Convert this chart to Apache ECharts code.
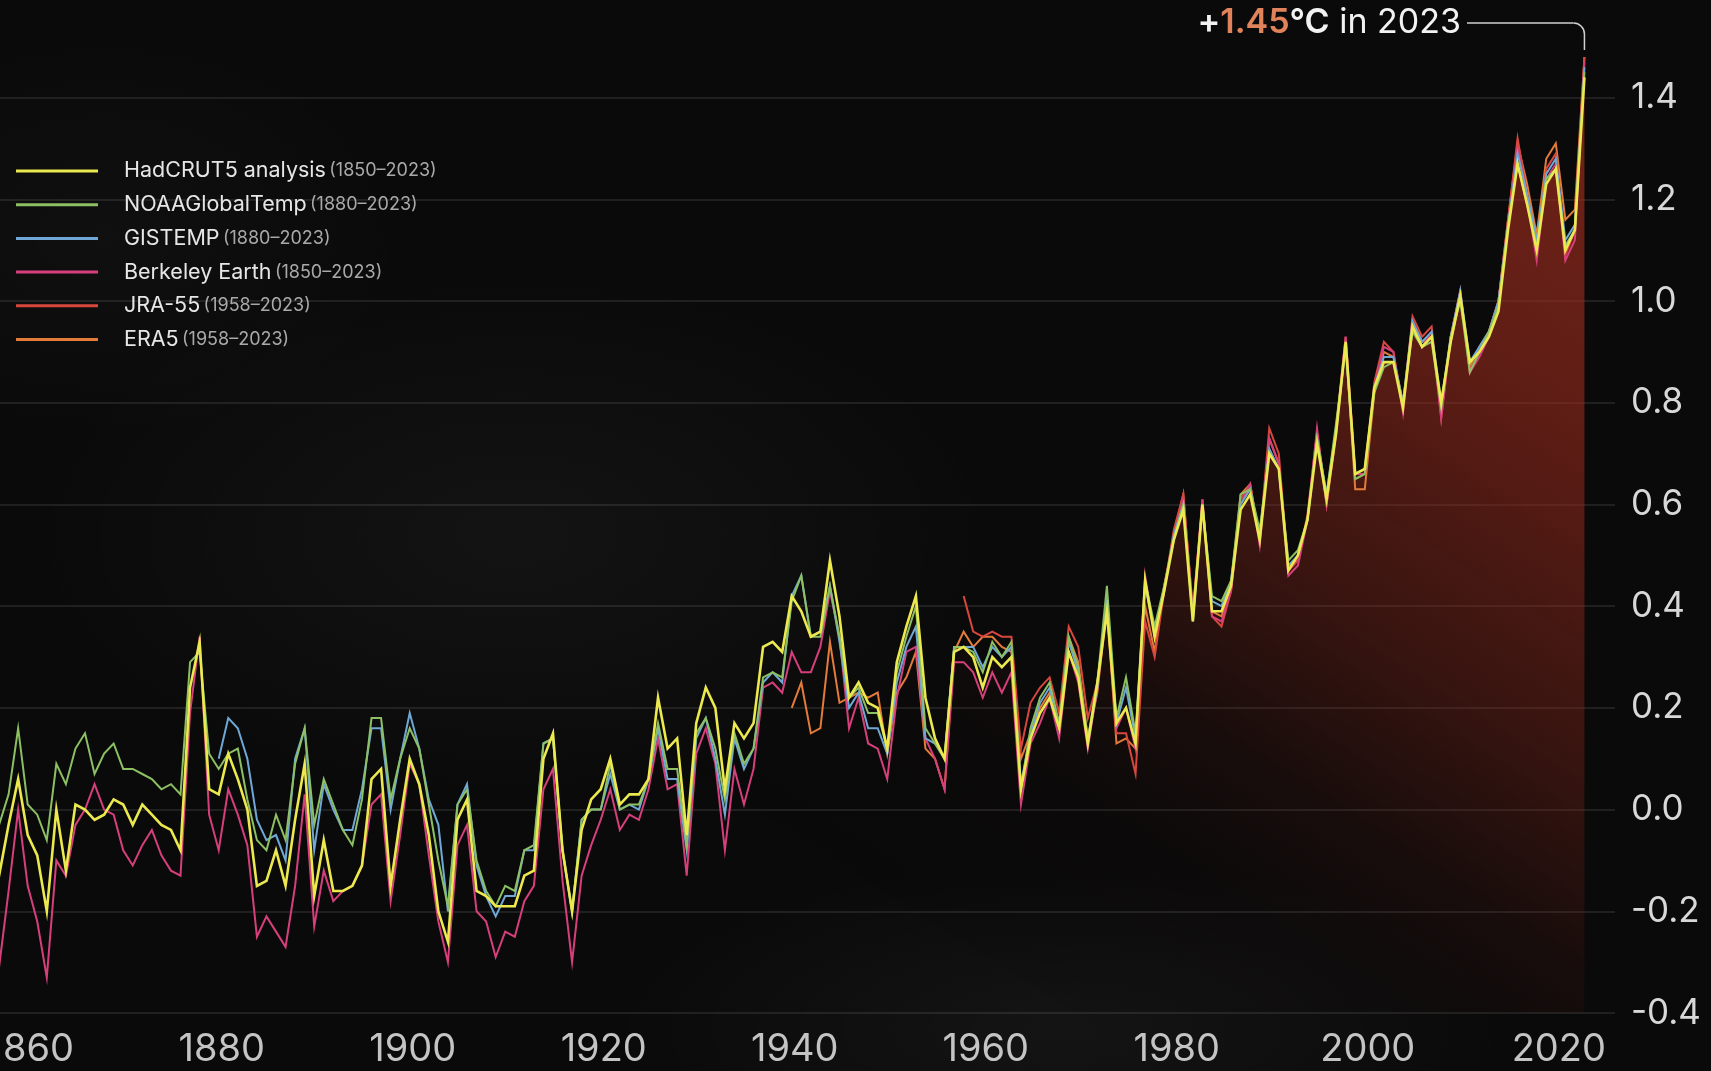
<!DOCTYPE html>
<html>
<head>
<meta charset="utf-8">
<script src="https://cdn.jsdelivr.net/npm/echarts@6/dist/echarts.min.js"></script>
<style>
html,body{margin:0;padding:0;width:1711px;height:1071px;overflow:hidden;
  background:
    radial-gradient(ellipse 700px 380px at 30% 50%, rgba(255,255,255,0.04), transparent 70%),
    radial-gradient(ellipse 650px 240px at 62% 96%, rgba(255,255,255,0.045), transparent 70%),
    radial-gradient(ellipse 450px 300px at 6% 22%, rgba(255,255,255,0.025), transparent 70%),
    #0a0a0a;}
#chart{width:1711px;height:1071px;}
</style>
</head>
<body>
<div id="chart"></div>
<script>
// ---- data (anomaly vs 1850-1900, °C), one value per year ----
const hadStart = 1856;
const hadcrut5 = [
  -0.09, -0.13, -0.03, 0.06,
  -0.05, -0.09, -0.20, 0.00, -0.12, 0.01, 0.00, -0.02, -0.01, 0.02,
  0.01, -0.03, 0.01, -0.01, -0.03, -0.04, -0.08, 0.24, 0.33, 0.04,
  0.03, 0.11, 0.06, 0.00, -0.15, -0.14, -0.08, -0.15, -0.02, 0.09,
  -0.17, -0.06, -0.16, -0.16, -0.15, -0.11, 0.06, 0.08, -0.15, -0.02,
  0.10, 0.05, -0.05, -0.20, -0.26, -0.02, 0.02, -0.16, -0.17, -0.19,
  -0.19, -0.19, -0.13, -0.12, 0.10, 0.15, -0.08, -0.20, -0.04, 0.02,
  0.04, 0.10, 0.01, 0.03, 0.03, 0.06, 0.22, 0.12, 0.14, -0.05,
  0.17, 0.24, 0.20, 0.04, 0.17, 0.14, 0.17, 0.32, 0.33, 0.31,
  0.42, 0.39, 0.34, 0.35, 0.49, 0.38, 0.22, 0.25, 0.21, 0.20,
  0.12, 0.29, 0.36, 0.42, 0.22, 0.14, 0.10, 0.31, 0.32, 0.30,
  0.24, 0.30, 0.28, 0.30, 0.04, 0.14, 0.19, 0.22, 0.16, 0.31,
  0.26, 0.13, 0.25, 0.39, 0.17, 0.20, 0.13, 0.45, 0.34, 0.43,
  0.53, 0.59, 0.37, 0.60, 0.39, 0.39, 0.44, 0.59, 0.62, 0.53,
  0.70, 0.67, 0.47, 0.50, 0.57, 0.72, 0.61, 0.74, 0.92, 0.66,
  0.67, 0.83, 0.88, 0.88, 0.79, 0.95, 0.91, 0.93, 0.80, 0.92,
  1.01, 0.88, 0.90, 0.93, 0.98, 1.14, 1.27, 1.19, 1.10, 1.23,
  1.26, 1.10, 1.14, 1.44
];
const noaaStart = 1856;
const noaa = [
  -0.03, -0.03, 0.03, 0.16,
  0.01, -0.01, -0.06, 0.09, 0.05, 0.12, 0.15, 0.07, 0.11, 0.13,
  0.08, 0.08, 0.07, 0.06, 0.04, 0.05, 0.03, 0.29, 0.31, 0.11,
  0.08, 0.11, 0.12, 0.02, -0.06, -0.08, -0.01, -0.06, 0.09, 0.16,
  -0.03, 0.06, 0.01, -0.04, -0.07, 0.02, 0.18, 0.18, 0.02, 0.10,
  0.16, 0.12, 0.01, -0.10, -0.19, 0.01, 0.04, -0.10, -0.16, -0.19,
  -0.15, -0.16, -0.08, -0.07, 0.13, 0.14, -0.08, -0.20, -0.02, 0.00,
  0.00, 0.09, 0.00, 0.01, 0.01, 0.06, 0.17, 0.08, 0.08, -0.07,
  0.15, 0.18, 0.12, 0.02, 0.15, 0.09, 0.12, 0.26, 0.27, 0.26,
  0.41, 0.46, 0.34, 0.34, 0.44, 0.34, 0.22, 0.24, 0.19, 0.19,
  0.12, 0.27, 0.34, 0.40, 0.16, 0.13, 0.10, 0.32, 0.32, 0.31,
  0.27, 0.33, 0.30, 0.33, 0.04, 0.16, 0.22, 0.25, 0.17, 0.34,
  0.28, 0.14, 0.25, 0.44, 0.18, 0.26, 0.15, 0.45, 0.36, 0.44,
  0.53, 0.60, 0.38, 0.60, 0.42, 0.41, 0.45, 0.62, 0.63, 0.55,
  0.70, 0.67, 0.49, 0.51, 0.57, 0.73, 0.62, 0.76, 0.91, 0.65,
  0.66, 0.82, 0.87, 0.88, 0.80, 0.94, 0.91, 0.92, 0.79, 0.93,
  1.00, 0.86, 0.90, 0.94, 0.99, 1.15, 1.27, 1.19, 1.11, 1.24,
  1.26, 1.11, 1.14, 1.45
];
const gisStart = 1880;
const gistemp = [
  0.10, 0.18, 0.16, 0.10, -0.02, -0.06, -0.05, -0.10, 0.10, 0.16,
  -0.08, 0.05, 0.00, -0.04, -0.04, 0.04, 0.16, 0.16, 0.00, 0.10,
  0.19, 0.12, 0.02, -0.03, -0.20, 0.01, 0.05, -0.11, -0.17, -0.21,
  -0.17, -0.17, -0.08, -0.08, 0.13, 0.14, -0.08, -0.20, -0.02, 0.00,
  0.00, 0.07, 0.00, 0.01, 0.00, 0.06, 0.16, 0.06, 0.06, -0.08,
  0.14, 0.18, 0.10, -0.01, 0.14, 0.08, 0.12, 0.25, 0.27, 0.25,
  0.42, 0.46, 0.34, 0.35, 0.44, 0.33, 0.20, 0.23, 0.16, 0.16,
  0.11, 0.25, 0.32, 0.36, 0.14, 0.13, 0.10, 0.32, 0.32, 0.32,
  0.28, 0.32, 0.30, 0.32, 0.05, 0.15, 0.21, 0.24, 0.16, 0.33,
  0.27, 0.13, 0.24, 0.42, 0.17, 0.24, 0.14, 0.44, 0.35, 0.43,
  0.54, 0.60, 0.37, 0.60, 0.41, 0.40, 0.45, 0.60, 0.63, 0.54,
  0.71, 0.67, 0.48, 0.50, 0.57, 0.73, 0.62, 0.75, 0.91, 0.66,
  0.67, 0.83, 0.89, 0.89, 0.80, 0.96, 0.92, 0.94, 0.80, 0.93,
  1.02, 0.88, 0.91, 0.94, 1.00, 1.15, 1.29, 1.21, 1.12, 1.25,
  1.28, 1.12, 1.15, 1.46
];
const berkStart = 1856;
const berkeley = [
  -0.22, -0.31, -0.16, 0.00,
  -0.15, -0.22, -0.33, -0.10, -0.13, -0.03, 0.00, 0.05, 0.00, -0.01,
  -0.08, -0.11, -0.07, -0.04, -0.09, -0.12, -0.13, 0.19, 0.34, -0.01,
  -0.08, 0.04, -0.01, -0.07, -0.25, -0.21, -0.24, -0.27, -0.15, 0.03,
  -0.23, -0.12, -0.18, -0.16, -0.15, -0.11, 0.01, 0.03, -0.18, -0.05,
  0.09, 0.05, -0.09, -0.22, -0.30, -0.07, -0.03, -0.20, -0.22, -0.29,
  -0.24, -0.25, -0.18, -0.15, 0.04, 0.08, -0.14, -0.30, -0.13, -0.07,
  -0.02, 0.04, -0.04, -0.01, -0.02, 0.04, 0.14, 0.04, 0.05, -0.13,
  0.11, 0.16, 0.09, -0.08, 0.08, 0.01, 0.08, 0.24, 0.25, 0.23,
  0.31, 0.27, 0.27, 0.32, 0.43, 0.34, 0.16, 0.22, 0.13, 0.12,
  0.06, 0.22, 0.31, 0.32, 0.14, 0.10, 0.04, 0.29, 0.29, 0.27,
  0.22, 0.27, 0.23, 0.27, 0.01, 0.13, 0.17, 0.22, 0.14, 0.31,
  0.25, 0.12, 0.24, 0.40, 0.16, 0.20, 0.12, 0.46, 0.34, 0.44,
  0.53, 0.61, 0.38, 0.61, 0.38, 0.37, 0.43, 0.60, 0.64, 0.52,
  0.73, 0.68, 0.46, 0.48, 0.57, 0.75, 0.60, 0.75, 0.93, 0.66,
  0.66, 0.83, 0.91, 0.90, 0.78, 0.96, 0.91, 0.94, 0.77, 0.93,
  1.02, 0.86, 0.89, 0.93, 1.00, 1.15, 1.30, 1.20, 1.08, 1.24,
  1.27, 1.08, 1.12, 1.47
];
const jraStart = 1958;
const jra55 = [
  0.42, 0.35,
  0.34, 0.35, 0.34, 0.34, 0.12, 0.21, 0.24, 0.26, 0.19, 0.36,
  0.32, 0.18, 0.25, 0.40, 0.15, 0.15, 0.07, 0.37, 0.30, 0.43,
  0.55, 0.62, 0.39, 0.61, 0.38, 0.36, 0.43, 0.61, 0.64, 0.53,
  0.75, 0.70, 0.47, 0.49, 0.58, 0.74, 0.61, 0.75, 0.93, 0.66,
  0.66, 0.84, 0.92, 0.90, 0.79, 0.97, 0.93, 0.95, 0.77, 0.93,
  1.02, 0.86, 0.90, 0.94, 1.00, 1.16, 1.32, 1.21, 1.09, 1.26,
  1.29, 1.09, 1.14, 1.48
];
const eraStart = 1940;
const era5 = [
  0.20, 0.25, 0.15, 0.16, 0.33, 0.21, 0.22, 0.23, 0.22, 0.23,
  0.11, 0.23, 0.26, 0.31, 0.12, 0.10, 0.04, 0.31, 0.35, 0.32,
  0.34, 0.34, 0.32, 0.31, 0.10, 0.15, 0.20, 0.23, 0.17, 0.34,
  0.29, 0.14, 0.23, 0.40, 0.13, 0.14, 0.12, 0.40, 0.31, 0.44,
  0.54, 0.62, 0.39, 0.60, 0.39, 0.38, 0.44, 0.62, 0.64, 0.53,
  0.73, 0.68, 0.48, 0.49, 0.57, 0.74, 0.60, 0.74, 0.92, 0.63,
  0.63, 0.82, 0.90, 0.89, 0.80, 0.96, 0.92, 0.93, 0.79, 0.92,
  1.01, 0.87, 0.91, 0.94, 1.00, 1.16, 1.31, 1.23, 1.13, 1.28,
  1.31, 1.16, 1.18, 1.48
];

const xTicks = [1860, 1880, 1900, 1920, 1940, 1960, 1980, 2000, 2020];
const legendNames = ['HadCRUT5 analysis', 'NOAAGlobalTemp', 'GISTEMP', 'Berkeley Earth', 'JRA-55', 'ERA5'];
const legendRanges = ['(1850–2023)', '(1880–2023)', '(1880–2023)', '(1850–2023)', '(1958–2023)', '(1958–2023)'];
const annotValue = 1.45;
const annotYear = 2023;

const FONT = 'Inter, "Noto Sans", sans-serif';

function toPairs(start, arr){
  return arr.map((v, i) => [start + i, v]);
}

// drawn bottom -> top, yellow ends on top
const lines = [
  { name:'ERA5', start:eraStart, data:era5, color:'#e47b3a', width:2 },
  { name:'JRA-55', start:jraStart, data:jra55, color:'#d8473e', width:2 },
  { name:'Berkeley Earth', start:berkStart, data:berkeley, color:'#d63f7c', width:2 },
  { name:'GISTEMP', start:gisStart, data:gistemp, color:'#6fa8d6', width:2 },
  { name:'NOAAGlobalTemp', start:noaaStart, data:noaa, color:'#8cc063', width:2 },
  { name:'HadCRUT5 analysis', start:hadStart, data:hadcrut5, color:'#ece94f', width:2.6 }
];

const chart = echarts.init(document.getElementById('chart'), null, { renderer:'canvas' });

// warm glow under the curve, fading towards the lower left
const fillSeries = {
  name:'fill', type:'line', data:toPairs(hadStart, hadcrut5),
  symbol:'none', silent:true, z:1,
  lineStyle:{ width:0 },
  areaStyle:{
    origin:'start',
    color:{
      type:'linear', global:true, x:1000, y:1000, x2:1560, y2:120,
      colorStops:[
        { offset:0, color:'rgba(158,44,30,0)' },
        { offset:0.2, color:'rgba(158,44,30,0.02)' },
        { offset:0.32, color:'rgba(158,44,30,0.13)' },
        { offset:0.5, color:'rgba(158,44,30,0.46)' },
        { offset:0.75, color:'rgba(162,45,30,0.78)' },
        { offset:1, color:'rgba(168,47,32,0.92)' }
      ]
    }
  }
};

const lineSeries = lines.map((s, i) => ({
  name:s.name, type:'line', data:toPairs(s.start, s.data),
  symbol:'none', z:2 + i, color:s.color,
  lineStyle:{ color:s.color, width:s.width, join:'miter' }
}));

chart.setOption({
  animation:false,
  backgroundColor:'transparent',
  grid:{ left:0, right:96, top:-4, bottom:58, outerBoundsMode:'none', containLabel:false },
  legend:{
    data:legendNames, orient:'vertical', left:16, top:160, padding:0,
    icon:'rect', itemWidth:82, itemHeight:3, itemGap:11.7,
    selectedMode:false,
    formatter:(name) => `{n|${name}} {d|${legendRanges[legendNames.indexOf(name)]}}`,
    textStyle:{
      fontFamily:FONT,
      rich:{
        n:{ fontSize:21.5, color:'#e6e6e6', fontFamily:FONT, padding:[0,0,0,21] },
        d:{ fontSize:18, color:'#a9a9a9', fontFamily:FONT }
      }
    }
  },
  xAxis:{
    type:'value', min:1857.1, max:2026.2,
    axisLine:{ show:false }, axisTick:{ show:false }, splitLine:{ show:false },
    axisLabel:{
      customValues:xTicks, color:'#c4c4c4', fontSize:38, fontFamily:FONT,
      margin:18, padding:[0,0,0,6], formatter:(v) => String(v)
    }
  },
  yAxis:{
    type:'value', position:'right', min:-0.4, max:1.6, interval:0.2,
    axisLine:{ show:false }, axisTick:{ show:false },
    splitLine:{ lineStyle:{ color:'rgba(255,255,255,0.12)', width:1.5 } },
    axisLabel:{
      color:'#d8d8d8', fontSize:35, fontFamily:FONT, margin:16, showMaxLabel:false,
      formatter:(v) => v.toFixed(1)
    }
  },
  series:[fillSeries, ...lineSeries]
});

// ---- annotation: "+1.45°C in 2023" with elbow connector to the 2023 peak ----
const top2023 = Math.max(...lines.map(s => s.data[s.data.length - 1]));
const anchor = chart.convertToPixel({ gridIndex:0 }, [annotYear, top2023]);
const textRight = 1461, textY = 23, r = 11;
const px = anchor[0], py = anchor[1] - 7;

chart.setOption({
  graphic:[
    {
      type:'text', z:100,
      style:{
        x:textRight, y:textY, align:'right', verticalAlign:'middle',
        text:`{p|+}{v|${annotValue.toFixed(2)}}{u|°C}{t| in ${annotYear}}`,
        rich:{
          p:{ fill:'#f2f2f2', fontSize:34, fontWeight:600, fontFamily:FONT },
          v:{ fill:'#e0825a', fontSize:34, fontWeight:600, fontFamily:FONT },
          u:{ fill:'#f2f2f2', fontSize:34, fontWeight:600, fontFamily:FONT },
          t:{ fill:'#f2f2f2', fontSize:34, fontWeight:400, fontFamily:FONT }
        }
      }
    },
    {
      type:'polyline', z:100,
      shape:{ points:[[textRight + 6, textY], [px - r, textY]] },
      style:{ stroke:'#d0d0d0', lineWidth:1.5, fill:null }
    },
    {
      type:'arc', z:100,
      shape:{ cx:px - r, cy:textY + r, r:r, startAngle:-Math.PI / 2, endAngle:0, clockwise:true },
      style:{ stroke:'#d0d0d0', lineWidth:1.5, fill:null }
    },
    {
      type:'polyline', z:100,
      shape:{ points:[[px, textY + r], [px, py]] },
      style:{ stroke:'#d0d0d0', lineWidth:1.5, fill:null }
    }
  ]
});
</script>
</body>
</html>
